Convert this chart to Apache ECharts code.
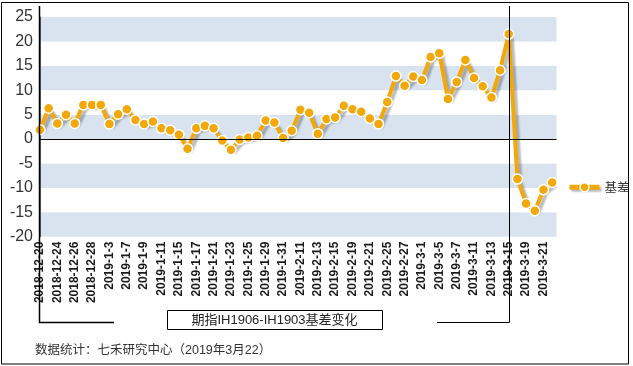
<!DOCTYPE html>
<html><head><meta charset="utf-8">
<script src="https://cdn.jsdelivr.net/npm/echarts@6/dist/echarts.min.js"></script>
<style>html,body{margin:0;padding:0;background:#fff}#c{width:633px;height:366px}</style>
</head><body><div id="c"></div>
<script>
const dates = ['2018-12-20','2018-12-21','2018-12-24','2018-12-25','2018-12-26','2018-12-27','2018-12-28',
'2019-1-2','2019-1-3','2019-1-4','2019-1-7','2019-1-8','2019-1-9','2019-1-10','2019-1-11','2019-1-14','2019-1-15','2019-1-16','2019-1-17','2019-1-18','2019-1-21','2019-1-22','2019-1-23','2019-1-24','2019-1-25','2019-1-28','2019-1-29','2019-1-30','2019-1-31',
'2019-2-1','2019-2-11','2019-2-12','2019-2-13','2019-2-14','2019-2-15','2019-2-18','2019-2-19','2019-2-20','2019-2-21','2019-2-22','2019-2-25','2019-2-26','2019-2-27','2019-2-28',
'2019-3-1','2019-3-4','2019-3-5','2019-3-6','2019-3-7','2019-3-8','2019-3-11','2019-3-12','2019-3-13','2019-3-14','2019-3-15','2019-3-18','2019-3-19','2019-3-20','2019-3-21','2019-3-22'];
const basis = [1.9,6.3,3.2,5.0,3.2,7.0,7.0,7.0,3.1,5.1,
6.1,3.9,3.1,3.6,2.2,1.8,0.9,-2.0,2.2,2.7,
2.2,-0.3,-2.2,-0.1,0.3,0.7,3.8,3.4,0.2,1.7,
6.0,5.4,1.1,4.1,4.4,6.8,6.1,5.6,4.2,3.1,
7.6,12.9,10.9,12.8,12.1,16.8,17.6,8.2,11.7,16.2,
12.5,10.8,8.5,14.1,21.5,-8.2,-13.2,-14.7,-10.4,-8.9];
const seriesName = '基差';
const yTicks = [-20,-15,-10,-5,0,5,10,15,20,25];
const titleText = '期指IH1906-IH1903基差变化';
const sourceText = '数据统计：七禾研究中心（2019年3月22）';
const markDate = '2019-3-15';

const chart = echarts.init(document.getElementById('c'), null, {renderer:'canvas'});
const orange = '#f3a80a';
chart.setOption({
  animation:false,
  backgroundColor:'#fff',
  grid:{left:40, top:17, width:516.5, height:219.7},
  xAxis:{type:'value', min:0, max:dates.length-0.5, interval:1,
    axisLine:{show:false}, axisTick:{show:false}, splitLine:{show:false},
    axisLabel:{rotate:90, margin:5, fontSize:12, fontWeight:'bold', color:'#1a1a1a', fontFamily:'Liberation Sans, Arial, sans-serif',
      showMaxLabel:false, showMinLabel:true,
      formatter:function(v){return (Number.isInteger(v) && v%2===0 && v<dates.length)? dates[v] : '';}}},
  yAxis:{type:'value', min:yTicks[0], max:yTicks[yTicks.length-1], interval:5, offset:4,
    axisLine:{show:true, lineStyle:{color:'#666', width:1}}, axisTick:{show:false},
    splitLine:{show:false},
    splitArea:{show:true, areaStyle:{color:['#d9e3ef','#ffffff']}},
    axisLabel:{fontSize:16, color:'#333', margin:3, fontFamily:'Liberation Sans, Arial, sans-serif'}},
  legend:{show:true, left:562, top:176, itemWidth:30, itemHeight:11, itemGap:5,
    lineStyle:{width:5, color:orange, shadowColor:'rgba(0,0,0,0.28)', shadowOffsetX:2, shadowOffsetY:2, shadowBlur:2},
    itemStyle:{color:orange, borderColor:'#fff', borderWidth:1.5},
    textStyle:{fontSize:12.5, color:'#333', fontFamily:'Noto Sans CJK SC'}, data:[seriesName]},
  series:[{name:seriesName, type:'line', data:basis.map((v,i)=>[i,v]),
    symbol:'circle', symbolSize:10, showSymbol:true,
    lineStyle:{color:orange, width:4, shadowColor:'rgba(0,0,0,0.28)', shadowOffsetX:3, shadowOffsetY:3, shadowBlur:2},
    itemStyle:{color:orange, borderColor:'#fff', borderWidth:1.5},
    markLine:{silent:true, symbol:'none', label:{show:false},
      lineStyle:{color:'#000', width:1, type:'solid'}, data:[{yAxis:0}]}
  }]
});
const xi = dates.indexOf(markDate);
const xm = chart.convertToPixel({xAxisIndex:0}, xi);
const x0 = chart.convertToPixel({xAxisIndex:0}, 0);
chart.setOption({graphic:[
  {type:'rect', shape:{x:1.5, y:2.5, width:627, height:361.5}, style:{fill:'none', stroke:'#000', lineWidth:1}, z:100},
  {type:'polyline', shape:{points:[[Math.round(xm)+0.5,6],[Math.round(xm)+0.5,322.5],[437,322.5]]}, style:{fill:'none', stroke:'#000', lineWidth:1}, z:100},
  {type:'polyline', shape:{points:[[Math.round(x0)-0.5,6],[Math.round(x0)-0.5,322.5],[114,322.5]]}, style:{fill:'none', stroke:'#000', lineWidth:1.5}, z:100},
  {type:'rect', shape:{x:167.5, y:310.5, width:215, height:19}, style:{fill:'#fff', stroke:'#000', lineWidth:1}, z:100},
  {type:'text', x:274.5, y:320, z:101, style:{text:titleText, fontSize:13, fill:'#222', align:'center', verticalAlign:'middle', fontFamily:'Liberation Sans, Noto Sans CJK SC, sans-serif'}},
  {type:'text', x:35, y:351, z:101, style:{text:sourceText, fontSize:12.5, fill:'#333', align:'left', verticalAlign:'middle', fontFamily:'Liberation Sans, Noto Sans CJK SC, sans-serif'}}
]});
</script></body></html>
